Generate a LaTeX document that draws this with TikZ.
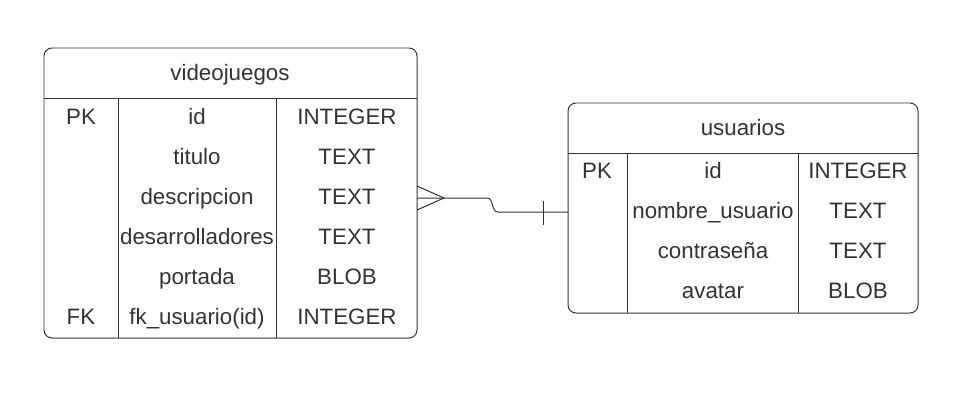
\documentclass[tikz,border=0pt]{standalone}
\usepackage{fontspec}
\setmainfont{Liberation Sans}
\usepackage{tikz}
\usetikzlibrary{arrows,shapes}
\definecolor{ink}{HTML}{333333}

\begin{document}
\begin{tikzpicture}[line width=1pt,draw=ink,
  cell/.style={text=ink,font=\fontsize{22.4}{26}\selectfont,inner sep=0pt,anchor=base}]
\useasboundingbox (0bp,0bp) rectangle (962bp,-407bp);
% table videojuegos
\draw [ink,rounded corners=8bp] (44bp,-48bp) rectangle (417bp,-338bp);
\draw [ink] (44bp,-98bp) -- (417bp,-98bp);
\draw [ink] (118bp,-98bp) -- (118bp,-338bp);
\draw [ink] (276bp,-98bp) -- (276bp,-338bp);
\node (vjT) at (230bp,-80bp)[cell] {videojuegos};
\node (vjK1) at (81bp,-124bp)[cell] {PK};
\node (vjN1) at (197bp,-124bp)[cell] {id};
\node (vjY1) at (347bp,-124bp)[cell] {INTEGER};
\node (vjN2) at (197bp,-164bp)[cell] {titulo};
\node (vjY2) at (347bp,-164bp)[cell] {TEXT};
\node (vjN3) at (197bp,-204bp)[cell] {descripcion};
\node (vjY3) at (347bp,-204bp)[cell] {TEXT};
\node (vjN4) at (197bp,-244bp)[cell] {desarrolladores};
\node (vjY4) at (347bp,-244bp)[cell] {TEXT};
\node (vjN5) at (197bp,-284bp)[cell] {portada};
\node (vjY5) at (347bp,-284bp)[cell] {BLOB};
\node (vjK6) at (81bp,-324bp)[cell] {FK};
\node (vjN6) at (197bp,-324bp)[cell] {fk\_usuario(id)};
\node (vjY6) at (347bp,-324bp)[cell] {INTEGER};
% table usuarios
\draw [ink,rounded corners=8bp] (568bp,-103bp) rectangle (918bp,-313bp);
\draw [ink] (568bp,-153bp) -- (918bp,-153bp);
\draw [ink] (627bp,-153bp) -- (627bp,-313bp);
\draw [ink] (798bp,-153bp) -- (798bp,-313bp);
\node (usT) at (743bp,-135bp)[cell] {usuarios};
\node (usK1) at (597bp,-178bp)[cell] {PK};
\node (usN1) at (713bp,-178bp)[cell] {id};
\node (usY1) at (858bp,-178bp)[cell] {INTEGER};
\node (usN2) at (713bp,-218bp)[cell] {nombre\_usuario};
\node (usY2) at (858bp,-218bp)[cell] {TEXT};
\node (usN3) at (713bp,-258bp)[cell] {contraseña};
\node (usY3) at (858bp,-258bp)[cell] {TEXT};
\node (usN4) at (713bp,-298bp)[cell] {avatar};
\node (usY4) at (858bp,-298bp)[cell] {BLOB};
% relation
\coordinate (vjE) at (417bp,-198bp);
\coordinate (usW) at (568bp,-212bp);
\coordinate (crow) at (444bp,-198bp);
\coordinate (tickA) at (543bp,-201bp);
\coordinate (tickB) at (543bp,-225bp);
\draw [ink] (vjE) -- (487bp,-198bp) .. controls (494bp,-198bp) and (491bp,-212bp) .. (498bp,-212bp) -- (usW);
\draw [ink] (417bp,-186bp) -- (crow) -- (417bp,-210bp);
\draw [ink] (tickA) -- (tickB);
\end{tikzpicture}
\end{document}
